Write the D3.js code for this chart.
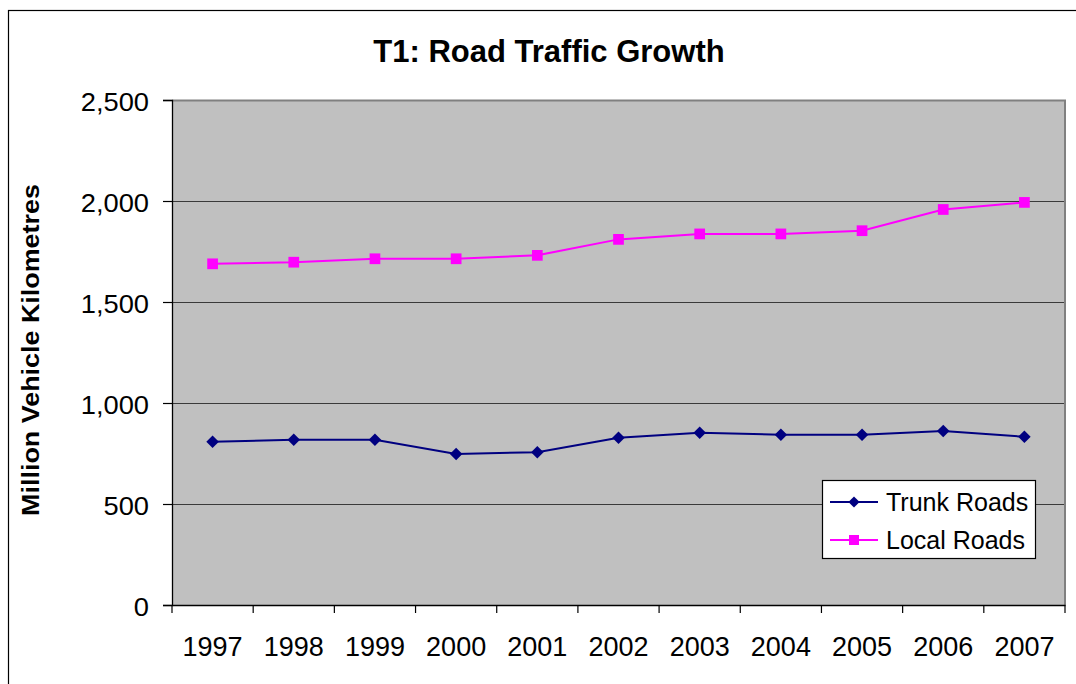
<!DOCTYPE html>
<html>
<head>
<meta charset="utf-8">
<script src="https://cdn.jsdelivr.net/npm/d3@7"></script>
<style>
  body { margin: 0; background: #fff; }
  svg { font-family: "Liberation Sans", Arial, sans-serif; }
</style>
</head>
<body>
<svg class="chart" width="1076" height="684"></svg>
<script>
//------------------------------------------------------------------------------
//Data
//------------------------------------------------------------------------------
var years = ["1997", "1998", "1999", "2000", "2001", "2002", "2003", "2004", "2005", "2006", "2007"];
var trunkRoads = [808, 818, 818, 748, 756, 828, 853, 843, 843, 861, 833];
var localRoads = [1689, 1697, 1714, 1714, 1731, 1810, 1837, 1837, 1853, 1958, 1993];
var yTicks = [0, 500, 1000, 1500, 2000, 2500];

var series = [
  { name: "Trunk Roads", values: trunkRoads, color: "#000080", marker: "diamond" },
  { name: "Local Roads", values: localRoads, color: "#ff00ff", marker: "square" }
];

//------------------------------------------------------------------------------
//Chart
//------------------------------------------------------------------------------
function drawChart() {
  var svg = d3.select(".chart");
  svg.selectAll("*").remove();

  var plot = { left: 172, right: 1065, top: 100, bottom: 605 };

  // outer frame (right and bottom edges fall outside the picture)
  svg.append("rect")
    .attr("x", 8.5).attr("y", 10.5)
    .attr("width", 1100).attr("height", 700)
    .attr("fill", "#fff")
    .attr("stroke", "#000")
    .attr("stroke-width", 1.2);

  var x = d3.scaleBand()
    .domain(years)
    .range([plot.left, plot.right]);

  var y = d3.scaleLinear()
    .domain([0, 2500])
    .range([plot.bottom, plot.top]);

  // plot background
  svg.append("rect")
    .attr("x", plot.left).attr("y", plot.top)
    .attr("width", plot.right - plot.left)
    .attr("height", plot.bottom - plot.top)
    .attr("fill", "#c0c0c0");

  // gridlines
  svg.append("g")
    .selectAll("line")
    .data(yTicks.filter(function (d) { return d > 0 && d < 2500; }))
    .enter()
    .append("line")
      .attr("x1", plot.left).attr("x2", plot.right)
      .attr("y1", function (d) { return Math.round(y(d)) + 0.5; })
      .attr("y2", function (d) { return Math.round(y(d)) + 0.5; })
      .attr("stroke", "#3a3a3a")
      .attr("stroke-width", 1.2);

  // plot border top / right
  svg.append("path")
    .attr("d", "M" + plot.left + "," + (plot.top + 0.5) + "H" + plot.right + "V" + plot.bottom)
    .attr("fill", "none")
    .attr("stroke", "#808080")
    .attr("stroke-width", 2);

  // y axis
  var yAxis = svg.append("g")
    .attr("transform", "translate(" + plot.left + ",0)")
    .call(d3.axisLeft(y).tickValues(yTicks).tickSize(9).tickPadding(0).tickFormat(d3.format(",")));
  yAxis.select(".domain").attr("stroke", "#000").attr("stroke-width", 1.3);
  yAxis.selectAll(".tick line").attr("stroke", "#000").attr("stroke-width", 1.2);
  yAxis.selectAll(".tick text")
    .attr("font-size", "26px")
    .attr("fill", "#000")
    .attr("x", null)
    .attr("dy", null)
    .attr("text-anchor", "end")
    .attr("transform", "translate(-23,10) scale(1.05,1)");

  // x axis
  var xAxis = svg.append("g")
    .attr("transform", "translate(0," + plot.bottom + ")")
    .call(d3.axisBottom(x).tickSize(0).tickPadding(0));
  xAxis.select(".domain").attr("stroke", "#000").attr("stroke-width", 1.3);
  xAxis.selectAll(".tick text")
    .attr("font-size", "27px")
    .attr("fill", "#000")
    .attr("y", 51)
    .attr("dy", null);

  // x ticks at category boundaries
  var bounds = years.map(function (d) { return x(d); }).concat([x.range()[1]]);
  xAxis.append("g")
    .selectAll("line")
    .data(bounds)
    .enter()
    .append("line")
      .attr("x1", function (d) { return d; })
      .attr("x2", function (d) { return d; })
      .attr("y1", 0).attr("y2", 8)
      .attr("stroke", "#000")
      .attr("stroke-width", 1.2);

  // title
  svg.append("text")
    .attr("x", 549).attr("y", 62)
    .attr("text-anchor", "middle")
    .attr("font-size", "31px")
    .attr("font-weight", "bold")
    .text("T1: Road Traffic Growth");

  // y axis title
  svg.append("text")
    .attr("transform", "translate(39,350) rotate(-90) scale(1.17,1)")
    .attr("text-anchor", "middle")
    .attr("font-size", "23px")
    .attr("font-weight", "bold")
    .text("Million Vehicle Kilometres");

  // lines
  var line = d3.line()
    .x(function (d, i) { return x(years[i]) + x.bandwidth() / 2; })
    .y(function (d) { return y(d); });

  var diamond = d3.symbol().type(d3.symbolDiamond2).size(100);
  var square = d3.symbol().type(d3.symbolSquare).size(115);

  series.forEach(function (s) {
    svg.append("path")
      .datum(s.values)
      .attr("fill", "none")
      .attr("stroke", s.color)
      .attr("stroke-width", 2)
      .attr("d", line);

    svg.append("g")
      .selectAll("path")
      .data(s.values)
      .enter()
      .append("path")
        .attr("transform", function (d, i) {
          return "translate(" + (x(years[i]) + x.bandwidth() / 2) + "," + y(d) + ")";
        })
        .attr("d", s.marker === "diamond" ? diamond : square)
        .attr("fill", s.color);
  });

  // legend
  var legend = svg.append("g").attr("transform", "translate(822,480)");
  legend.append("rect")
    .attr("x", 0.5).attr("y", 0.5)
    .attr("width", 213).attr("height", 78)
    .attr("fill", "#fff")
    .attr("stroke", "#000")
    .attr("stroke-width", 1.2);

  var items = legend.selectAll(".item")
    .data(series)
    .enter()
    .append("g")
      .attr("class", "item")
      .attr("transform", function (d, i) { return "translate(0," + (22 + i * 38) + ")"; });

  items.append("line")
    .attr("x1", 8).attr("x2", 56)
    .attr("y1", 0).attr("y2", 0)
    .attr("stroke", function (d) { return d.color; })
    .attr("stroke-width", 2);

  items.append("path")
    .attr("transform", "translate(32,0)")
    .attr("d", function (d) {
      return d.marker === "diamond"
        ? d3.symbol().type(d3.symbolDiamond2).size(80)()
        : d3.symbol().type(d3.symbolSquare).size(100)();
    })
    .attr("fill", function (d) { return d.color; });

  items.append("text")
    .attr("x", 64).attr("y", 9)
    .attr("font-size", "25px")
    .attr("fill", "#000")
    .text(function (d) { return d.name; });
}

drawChart();
</script>
</body>
</html>
